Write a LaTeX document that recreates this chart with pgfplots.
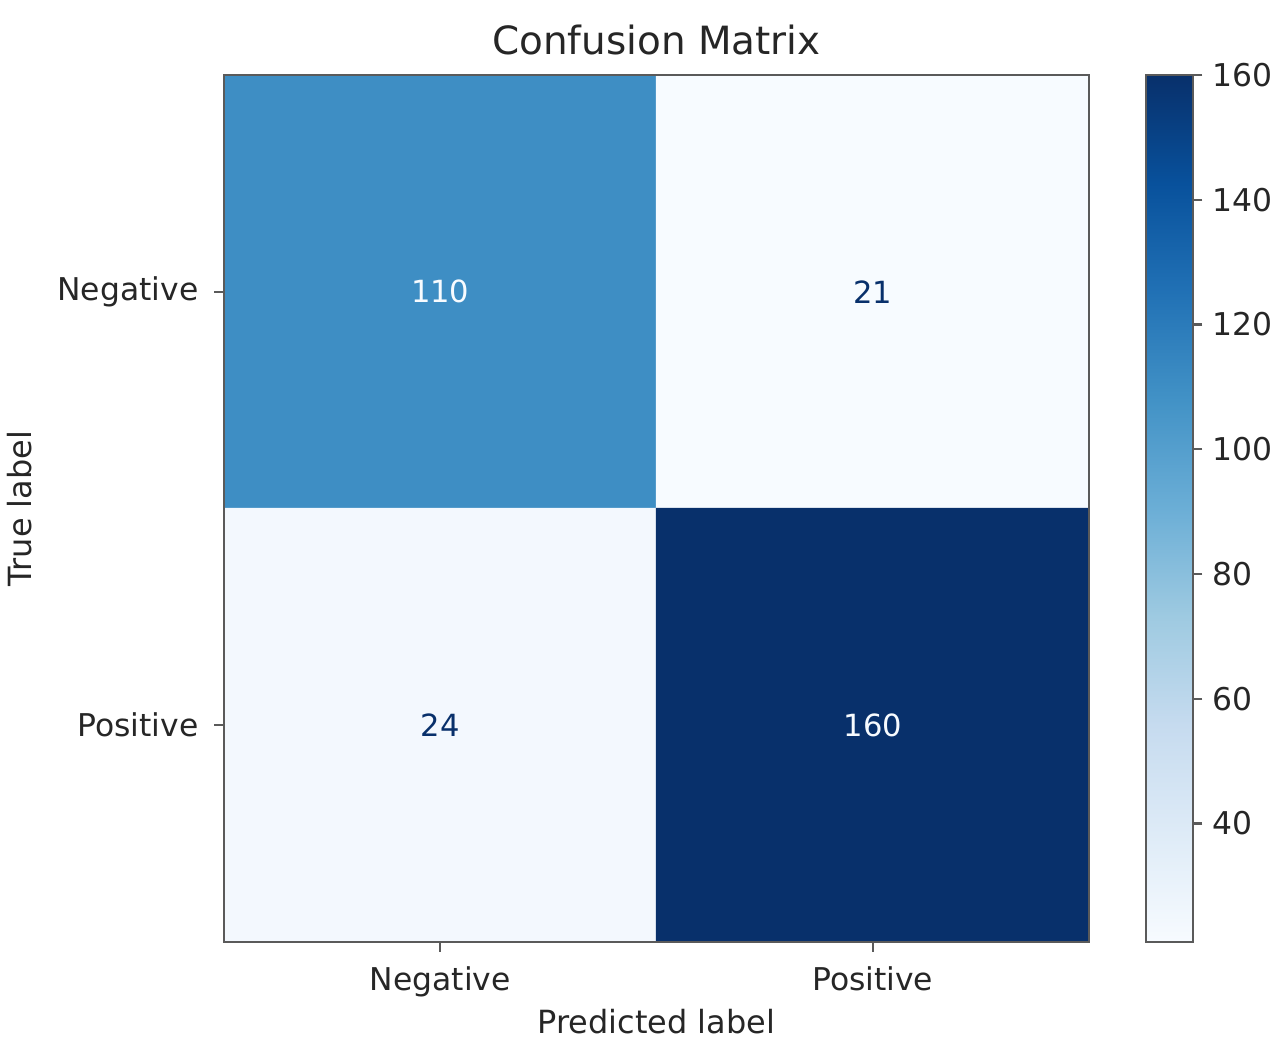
\documentclass[border=0pt]{standalone}
\usepackage{fontspec}
\setmainfont{DejaVu Sans}
\usepackage{pgfplots}
\pgfplotsset{compat=1.18}

% matplotlib "Blues"
\pgfplotsset{colormap={blues}{
  rgb255=(247,251,255) rgb255=(222,235,247) rgb255=(198,219,239)
  rgb255=(158,202,225) rgb255=(107,174,214) rgb255=(66,146,198)
  rgb255=(33,113,181) rgb255=(8,81,156) rgb255=(8,48,107)}}
\definecolor{cmlow}{RGB}{247,251,255}
\definecolor{cmhigh}{RGB}{8,48,107}
\definecolor{txt}{RGB}{38,38,38}
\definecolor{spine}{RGB}{90,90,90}

\begin{document}
\begin{tikzpicture}
\useasboundingbox (-80.64pt,-37.8pt) rectangle (380.16pt,339.12pt);
\begin{axis}[
    at={(0,0)}, anchor=south west,
    scale only axis,
    width=311.4pt, height=312.12pt,
    xmin=-0.5, xmax=1.5, ymin=-0.5, ymax=1.5,
    y dir=reverse,
    axis on top,
    axis line style={spine, line width=0.8pt},
    xtick={0,1}, ytick={0,1},
    xticklabels={Negative,Positive},
    yticklabels={Negative,Positive},
    xtick pos=bottom, ytick pos=left,
    tick align=outside,
    major tick length=3.5pt,
    tick style={spine, line width=0.8pt},
    tick label style={font=\fontsize{11.3}{13}\selectfont, text=txt},
    xticklabel style={yshift=-1.8pt},
    yticklabel style={xshift=-2.2pt},
    title={Confusion Matrix},
    title style={font=\fontsize{14}{16}\selectfont, text=txt,
                 at={(axis description cs:0.5,1.021)}, anchor=center},
    xlabel={Predicted label},
    ylabel={True label},
    xlabel style={font=\fontsize{11.5}{13}\selectfont, text=txt,
                  at={(axis description cs:0.5,-0.092)}, anchor=center},
    ylabel style={font=\fontsize{11.5}{13}\selectfont, text=txt,
                  at={(axis description cs:-0.236,0.5)}, anchor=center},
    colormap name=blues,
    point meta min=21, point meta max=160,
    colorbar,
    colorbar/width=16.92pt,
    colorbar style={
        at={(parent axis.north east)}, anchor=north west,
        xshift=11.9pt,
        ytick={40,60,80,100,120,140,160},
        ytick pos=right,
        tick align=outside,
        major tick length=3.5pt,
        axis line style={spine, line width=0.8pt},
        tick style={spine, line width=0.8pt},
        tick label style={font=\fontsize{11.3}{13}\selectfont, text=txt},
        /pgf/number format/assume math mode=true,
    },
]
\addplot[matrix plot*, mesh/cols=2, point meta=explicit] table[meta=c] {
x y c
0 0 110
1 0 21
0 1 24
1 1 160
};
% cell annotations
\addplot[only marks, mark=none, nodes near coords, point meta=explicit symbolic,
    nodes near coords style={anchor=center, text=cmlow, font=\fontsize{11}{13}\selectfont}]
    table[meta=c] {
x y c
0 0 110
1 1 160
};
\addplot[only marks, mark=none, nodes near coords, point meta=explicit symbolic,
    nodes near coords style={anchor=center, text=cmhigh, font=\fontsize{11}{13}\selectfont}]
    table[meta=c] {
x y c
1 0 21
0 1 24
};
\end{axis}
\end{tikzpicture}
\end{document}
